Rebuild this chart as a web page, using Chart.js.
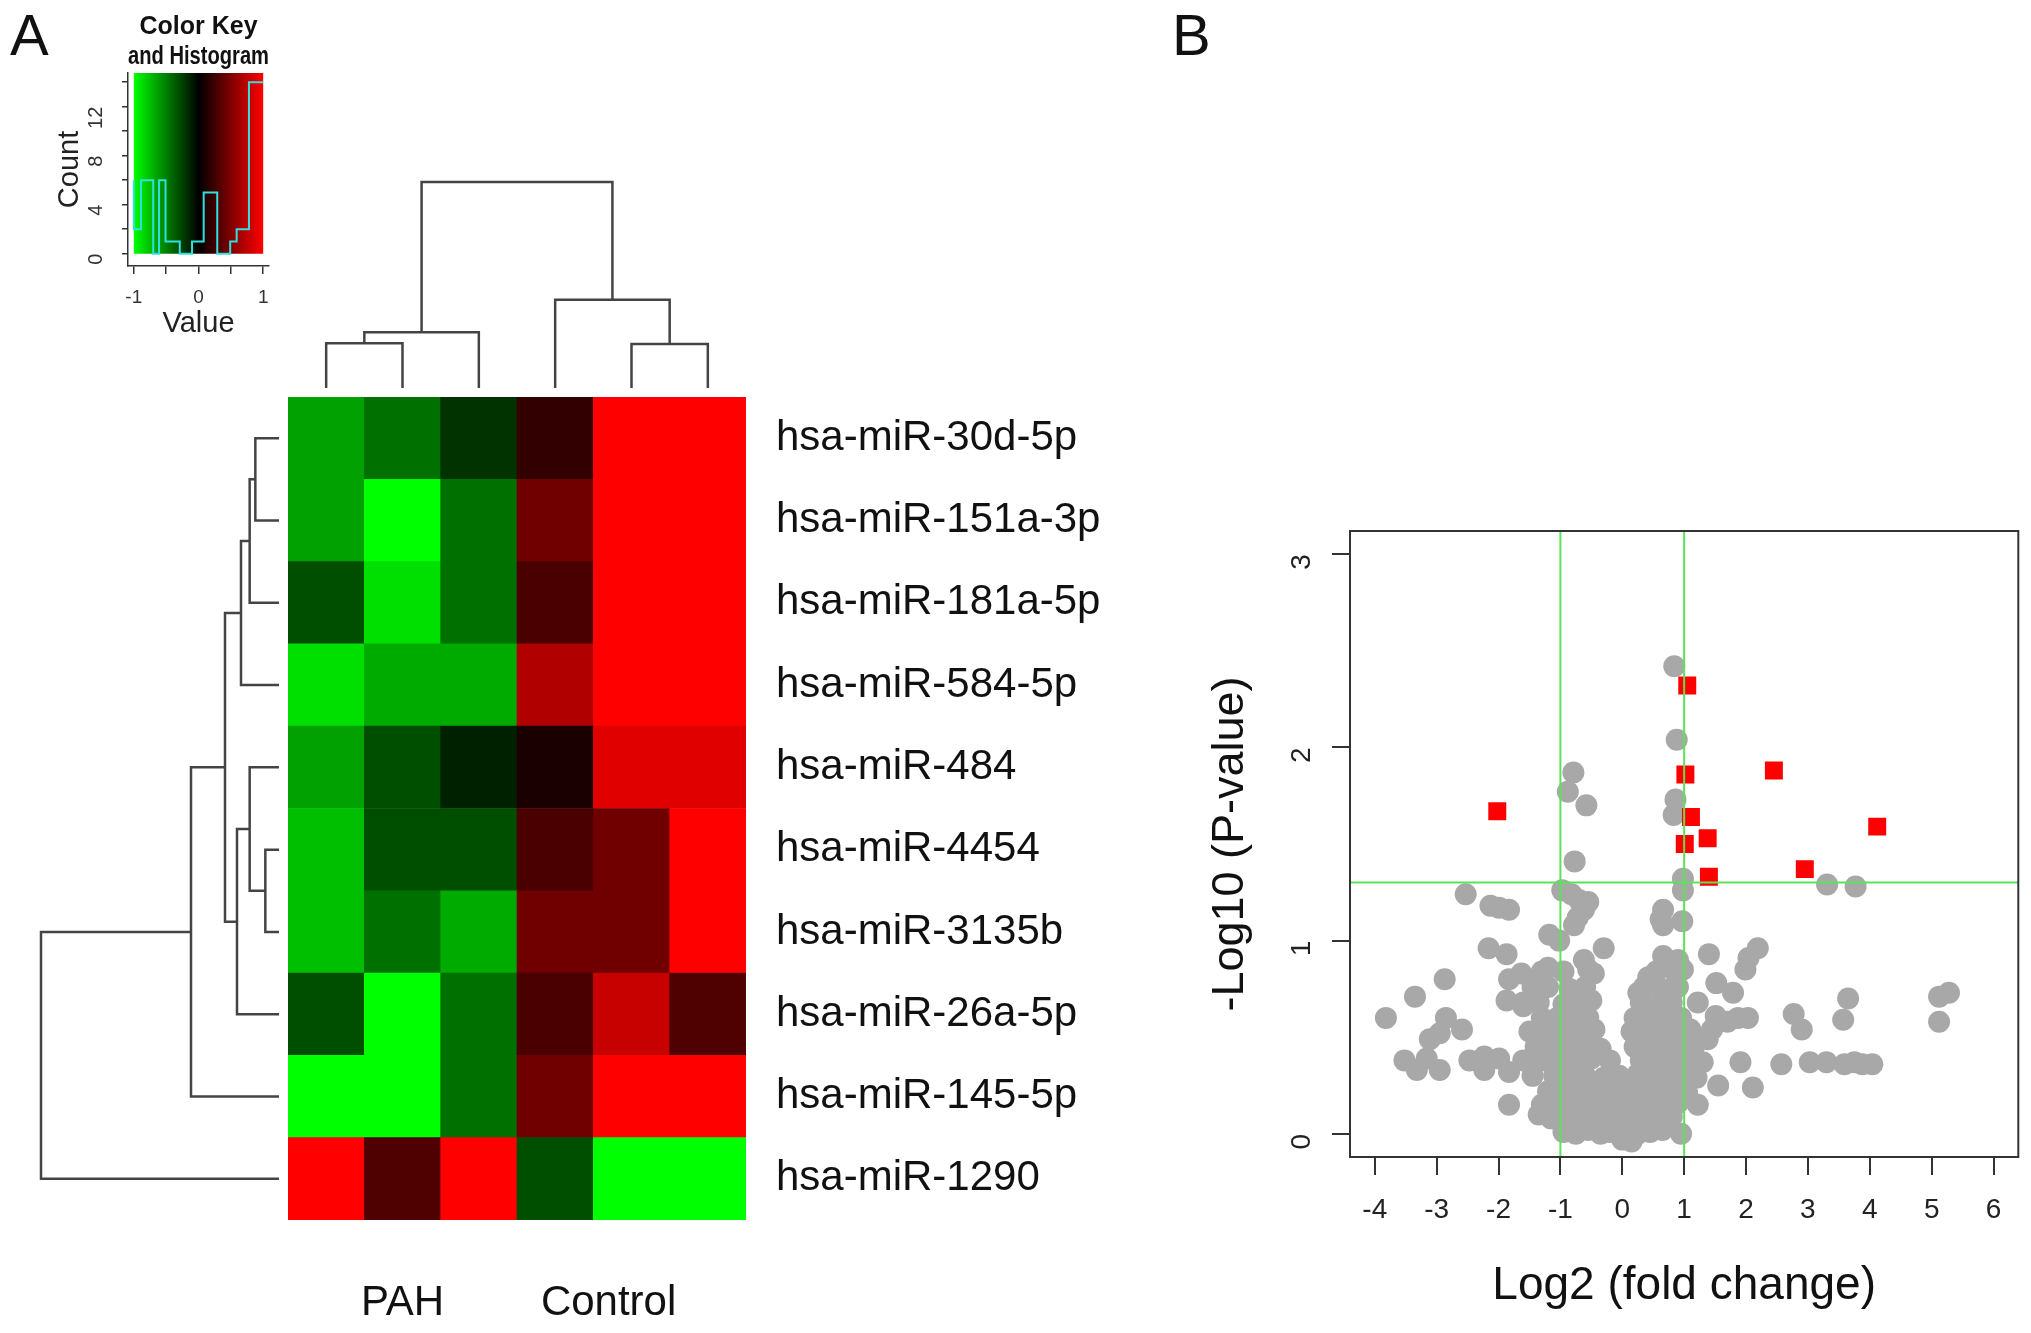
<!DOCTYPE html>
<html>
<head>
<meta charset="utf-8">
<script src="https://cdn.jsdelivr.net/npm/chart.js@4.4.1/dist/chart.umd.min.js"></script>
<style>
  body { margin: 0; width: 2031px; height: 1333px; background: #fff; position: relative; overflow: hidden;
         font-family: "Liberation Sans", Arial, sans-serif; }
  .box { position: absolute; }
  .letter { position: absolute; font-size: 58px; line-height: 1; color: #111; }
</style>
</head>
<body>
<div class="letter" style="left:10px;top:6px">A</div>
<div class="letter" style="left:1172px;top:6px">B</div>

<div class="box" style="left:0;top:0;width:300px;height:345px"><canvas id="key"></canvas></div>
<div class="box" style="left:280px;top:172px;width:474px;height:226px"><canvas id="colDendro"></canvas></div>
<div class="box" style="left:31px;top:387px;width:258px;height:843px"><canvas id="rowDendro"></canvas></div>
<div class="box" style="left:288px;top:390px;width:830px;height:943px"><canvas id="heat"></canvas></div>
<div class="box" style="left:1180px;top:480px;width:851px;height:853px"><canvas id="volcano"></canvas></div>

<script>
// ---- panel A: heatmap data ----
const mirnas = ['hsa-miR-30d-5p', 'hsa-miR-151a-3p', 'hsa-miR-181a-5p', 'hsa-miR-584-5p', 'hsa-miR-484',
                'hsa-miR-4454', 'hsa-miR-3135b', 'hsa-miR-26a-5p', 'hsa-miR-145-5p', 'hsa-miR-1290'];
const samples = ['PAH1', 'PAH2', 'PAH3', 'Ctrl1', 'Ctrl2', 'Ctrl3'];
const groupNames = ['PAH', 'Control'];
const groupCentres = [1.5, 4.2];   // in column units, 0..6
// scaled expression, one row per miRNA (top to bottom), columns as samples
const heatValues = [
  [-0.63, -0.44, -0.20, 0.20, 1.00, 1.00],
  [-0.63, -1.00, -0.44, 0.44, 1.00, 1.00],
  [-0.31, -0.88, -0.44, 0.29, 1.00, 1.00],
  [-0.88, -0.67, -0.67, 0.69, 1.00, 1.00],
  [-0.63, -0.31, -0.13, 0.10, 0.88, 0.88],
  [-0.75, -0.31, -0.31, 0.29, 0.44, 1.00],
  [-0.75, -0.44, -0.67, 0.44, 0.44, 1.00],
  [-0.31, -1.00, -0.44, 0.29, 0.78, 0.31],
  [-1.00, -1.00, -0.44, 0.44, 1.00, 1.00],
  [ 1.00,  0.31,  1.00, -0.31, -1.00, -1.00]
];
// dendrograms, hclust style merges: negative = leaf (display order), positive = earlier merge
const colMerges = [[-1, -2, 1.34], [1, -3, 1.67], [-5, -6, 1.32], [-4, 3, 2.65], [2, 4, 6.18]];
const rowMerges = [[-1, -2, 0.71], [-6, -7, 0.41], [1, -3, 0.88], [-5, 2, 0.88], [3, -4, 1.14],
                   [4, -8, 1.26], [5, 6, 1.62], [7, -9, 2.64], [8, -10, 7.14]];
// colour key histogram
const histEdges = [-1, -0.89, -0.7, -0.61, -0.51, -0.29, -0.1, 0.08, 0.29, 0.49, 0.59, 0.78, 0.9, 1];
const histCounts = [6, 2, 6, 0, 6, 1, 0, 1, 5, 0, 1, 2, 14];
const keyXTicks = [-1, -0.5, 0, 0.5, 1];
const keyYTicks = [0, 2, 4, 6, 8, 10, 12, 14];

// ---- panel B: volcano data ----
const sigFC = [1.05, 1.02, 2.45, -2.02, 1.11, 1.38, 1.01, 4.12, 2.95, 1.40];
const sigP  = [2.32, 1.86, 1.88, 1.67, 1.64, 1.53, 1.50, 1.59, 1.37, 1.33];
const otherFC = [
  0.84, 0.88, -0.79, -0.88, -0.58, 0.86, 0.83, -0.77, -2.53, 0.98, 0.98, 3.31, 3.77,
  -0.97, -0.82, -0.70, -0.55, -0.62, -0.72, -0.78, -2.13, -1.99, -1.83, 0.66, 0.62, 0.66, 0.97,
  -1.18, -1.02, -0.30, -2.16, -1.87, 2.19, 2.04, 1.99, 1.40, -2.87, -3.35, -3.82,
  -1.20, -1.63, -1.83, -0.62, -0.46, 0.66, 0.90, 0.98, 0.42, 0.26, 1.52, 1.79, 1.22,
  2.77, 2.90, 3.65, 3.57, 5.12, 5.28, 5.12, -1.87, -1.60, -2.85, -2.59, -3.11, -2.95,
  -3.52, -3.32, -3.16, -2.95, -2.47, -2.23, -2.23, -1.99, -1.83, -1.83, -1.35,
  1.91, 2.11, 1.55, 1.22, 2.57, 3.03, 3.30, 3.59, 3.75, 3.88, 4.04, 1.87, 2.03, 1.70, 1.51, 1.38, 1.45,
  -0.95, -0.75, -0.55, -0.35, -0.20, -0.05, 0.10, 0.25, 0.45, 0.65, 0.95, 0.00, 0.15,
  -1.15, -0.85, -0.60, -0.40, -0.15, 0.05, 0.30, 0.55, 0.80,
  -1.30, -1.05, -0.80, -0.50, -0.25, 0.00, 0.20, 0.40, 0.70, 0.90,
  -1.20, -0.95, -0.70, -0.45, -0.20, 0.10, 0.35, 0.60, 0.85, 1.05,
  -1.45, -1.10, -0.85, -0.60, -0.30, -0.05, 0.25, 0.50, 0.75, 0.95, 1.20,
  -1.60, -1.30, -1.00, -0.75, -0.50, -0.20, 0.30, 0.55, 0.80, 1.05, 1.30,
  -1.40, -1.15, -0.90, -0.60, -0.35, 0.20, 0.45, 0.70, 0.90, 1.15,
  -1.50, -1.25, -0.95, -0.70, -0.45, 0.15, 0.40, 0.65, 0.85, 1.10,
  -1.30, -1.05, -0.80, -0.55, 0.20, 0.45, 0.70, 0.95,
  -1.60, -1.35, -0.95, -0.70, -0.50, 0.30, 0.55, 0.80,
  -1.45, -1.20, -0.85, -0.60, 0.35, 0.65, 0.90,
  -1.30, -0.95, -0.55, 0.55, 0.85
];
const otherP = [
  2.42, 2.04, 1.87, 1.77, 1.70, 1.73, 1.65, 1.41, 1.24, 1.32, 1.26, 1.29, 1.28,
  1.26, 1.24, 1.21, 1.20, 1.16, 1.12, 1.08, 1.18, 1.17, 1.16, 1.16, 1.11, 1.08, 1.10,
  1.03, 1.00, 0.96, 0.96, 0.93, 0.96, 0.91, 0.85, 0.93, 0.80, 0.71, 0.60,
  0.86, 0.83, 0.80, 0.90, 0.83, 0.92, 0.90, 0.85, 0.81, 0.73, 0.78, 0.73, 0.68,
  0.62, 0.54, 0.70, 0.59, 0.71, 0.73, 0.58, 0.69, 0.66, 0.60, 0.54, 0.49, 0.52,
  0.38, 0.33, 0.39, 0.33, 0.38, 0.40, 0.33, 0.39, 0.32, 0.15, 0.10,
  0.37, 0.24, 0.25, 0.15, 0.36, 0.37, 0.37, 0.36, 0.37, 0.36, 0.36, 0.60, 0.60, 0.58, 0.61, 0.49, 0.54,
  0.01, 0.00, 0.02, 0.00, 0.01, 0.00, -0.02, 0.00, 0.01, 0.02, 0.00, -0.03, -0.04,
  0.08, 0.08, 0.07, 0.08, 0.09, 0.07, 0.08, 0.08, 0.09,
  0.15, 0.15, 0.16, 0.15, 0.15, 0.14, 0.16, 0.15, 0.15, 0.16,
  0.22, 0.22, 0.23, 0.22, 0.21, 0.22, 0.23, 0.22, 0.22, 0.21,
  0.30, 0.30, 0.31, 0.30, 0.29, 0.30, 0.31, 0.30, 0.30, 0.31, 0.29,
  0.38, 0.38, 0.37, 0.38, 0.39, 0.38, 0.38, 0.37, 0.38, 0.38, 0.37,
  0.45, 0.45, 0.46, 0.45, 0.44, 0.45, 0.46, 0.45, 0.45, 0.44,
  0.53, 0.53, 0.52, 0.53, 0.54, 0.53, 0.52, 0.53, 0.53, 0.54,
  0.60, 0.60, 0.61, 0.60, 0.60, 0.61, 0.60, 0.60,
  0.68, 0.68, 0.67, 0.68, 0.69, 0.68, 0.67, 0.68,
  0.76, 0.76, 0.75, 0.76, 0.76, 0.75, 0.76,
  0.84, 0.84, 0.85, 0.84, 0.84
];
const fcCutoffs = [-1, 1];
const pCutoff = 1.301;       // -log10(0.05)
const volcXTicks = [-4, -3, -2, -1, 0, 1, 2, 3, 4, 5, 6];
const volcYTicks = [0, 1, 2, 3];
const volcX = [-4.4, 6.4];
const volcY = [-0.12, 3.12];

Chart.defaults.font.family = '"Liberation Sans", Arial, sans-serif';
Chart.defaults.color = '#222';
Chart.defaults.animation = false;
Chart.defaults.maintainAspectRatio = false;
Chart.defaults.plugins.legend.display = false;
Chart.defaults.plugins.tooltip.enabled = false;

function keyColour(v) {
  const c = Math.round(255 * Math.min(1, Math.abs(v)));
  return v < 0 ? `rgb(0,${c},0)` : `rgb(${c},0,0)`;
}

function dendroLinks(merges, sideways) {
  const nodes = [];
  const at = i => i < 0 ? { p: -i, h: 0 } : nodes[i - 1];
  return merges.map(([a, b, h]) => {
    const A = at(a), B = at(b);
    nodes.push({ p: (A.p + B.p) / 2, h: h });
    return [[A.p, A.h], [A.p, h], [B.p, h], [B.p, B.h]]
      .map(([p, hh]) => sideways ? { x: hh, y: p } : { x: p, y: hh });
  });
}

const fixedTicks = list => axis => { axis.ticks = list.map(v => ({ value: v })); };
// fixed axis size, and no extra room reserved for the end labels
const fixSize = (key, size) => axis => {
  axis[key] = size;
  axis.paddingTop = axis.paddingBottom = axis.paddingLeft = axis.paddingRight = 0;
};
const hidden = { display: false };

// colour key
const keyGradient = {
  id: 'keyGradient',
  beforeDatasetsDraw(chart) {
    const { ctx, scales: { x, y } } = chart;
    const x0 = x.getPixelForValue(-1), x1 = x.getPixelForValue(1);
    const top = y.getPixelForValue(y.max), bottom = y.getPixelForValue(0);
    const g = ctx.createLinearGradient(x0, 0, x1, 0);
    g.addColorStop(0, keyColour(-1));
    g.addColorStop(0.5, keyColour(0));
    g.addColorStop(1, keyColour(1));
    ctx.save();
    ctx.fillStyle = g;
    ctx.fillRect(x0, top, x1 - x0, bottom - top);
    ctx.restore();
  }
};

const histPts = histCounts.map((c, i) => ({ x: histEdges[i], y: c }));
histPts.push({ x: histEdges[histEdges.length - 1], y: histCounts[histCounts.length - 1] });

new Chart(document.getElementById('key'), {
  type: 'line',
  data: { datasets: [{ data: histPts, borderColor: '#30e0e0', borderWidth: 2, stepped: 'after', pointRadius: 0, fill: false }] },
  options: {
    layout: { padding: { left: 53, right: 31, top: 0, bottom: 0 } },
    plugins: {
      title: { display: true, fullSize: false, text: ['Color Key', 'and Histogram'], color: '#111',
               font: { size: 25, weight: 'bold', lineHeight: 1.2 }, padding: { top: 12, bottom: 1 } }
    },
    scales: {
      x: {
        type: 'linear', min: -1.09, max: 1.09,
        afterBuildTicks: fixedTicks(keyXTicks),
        afterFit: fixSize('height', 79),
        grid: { drawOnChartArea: false, tickLength: 8, color: '#333', lineWidth: 1.5 },
        border: { color: '#333', width: 1.5 },
        ticks: { font: { size: 19 }, padding: 12, maxRotation: 0, color: '#333',
                 callback: v => Number.isInteger(v) ? String(v) : '' },
        title: { display: true, text: 'Value', font: { size: 29 }, color: '#222', padding: { top: 0, bottom: 4 } }
      },
      y: {
        min: -1, max: 14.75,
        afterBuildTicks: fixedTicks(keyYTicks),
        afterFit: fixSize('width', 75),
        grid: { drawOnChartArea: false, tickLength: 6, color: '#333', lineWidth: 1.5 },
        border: { color: '#333', width: 1.5 },
        ticks: { font: { size: 20 }, padding: 26, minRotation: 90, maxRotation: 90, color: '#333',
                 callback: v => v % 4 === 0 ? String(v) : '' },
        title: { display: true, text: 'Count', font: { size: 29 }, color: '#222', padding: { top: 0, bottom: 0 } }
      }
    }
  },
  plugins: [keyGradient]
});

// dendrograms
const dendroStyle = { borderColor: '#444', borderWidth: 2.5, showLine: true, pointRadius: 0, clip: false };

new Chart(document.getElementById('colDendro'), {
  type: 'scatter',
  data: { datasets: dendroLinks(colMerges, false).map(pts => ({ ...dendroStyle, data: pts })) },
  options: {
    layout: { padding: { left: 8, right: 8, top: 10, bottom: 10 } },
    scales: {
      x: { type: 'linear', min: 0.5, max: samples.length + 0.5, display: false },
      y: { type: 'linear', min: 0, max: 6.18, display: false }
    }
  }
});

new Chart(document.getElementById('rowDendro'), {
  type: 'scatter',
  data: { datasets: dendroLinks(rowMerges, true).map(pts => ({ ...dendroStyle, data: pts })) },
  options: {
    layout: { padding: { left: 10, right: 10, top: 10, bottom: 10 } },
    scales: {
      x: { type: 'linear', min: 0, max: 7.14, reverse: true, display: false },
      y: { type: 'linear', min: 0.5, max: mirnas.length + 0.5, reverse: true, display: false }
    }
  }
});

// heatmap: one stacked bar segment per cell, bottom row first
const heatSets = heatValues.slice().reverse().map(row => ({
  data: row.map(() => 1),
  backgroundColor: row.map(keyColour),
  borderWidth: 0,
  barPercentage: 1,
  categoryPercentage: 1
}));

new Chart(document.getElementById('heat'), {
  type: 'bar',
  data: { labels: samples, datasets: heatSets },
  options: {
    layout: { padding: { top: 7, left: 0, right: 0, bottom: 0 } },
    scales: {
      x: { stacked: true, display: false },
      groups: {
        type: 'linear', axis: 'x', position: 'bottom', min: 0, max: samples.length, offset: false,
        afterBuildTicks: fixedTicks(groupCentres),
        afterFit: fixSize('height', 113),
        grid: { display: false, drawTicks: false, offset: false },
        border: hidden,
        ticks: { font: { size: 42 }, color: '#111', padding: 58, maxRotation: 0, autoSkip: false,
                 callback: (v, i) => groupNames[i] }
      },
      y: {
        stacked: true, position: 'right', min: 0, max: mirnas.length,
        afterBuildTicks: fixedTicks(mirnas.map((_, i) => i + 0.5)),
        afterFit: fixSize('width', 372),
        grid: { display: false, drawTicks: false },
        border: hidden,
        ticks: { font: { size: 42 }, color: '#111', padding: 30, autoSkip: false,
                 callback: v => mirnas[mirnas.length - 1 - Math.floor(v)] }
      }
    }
  }
});

// volcano
const frame = {
  id: 'frame',
  afterDraw(chart) {
    const { ctx, chartArea: a } = chart;
    ctx.save();
    ctx.strokeStyle = '#333';
    ctx.lineWidth = 2;
    ctx.strokeRect(a.left, a.top, a.right - a.left, a.bottom - a.top);
    ctx.restore();
  }
};
const cutLine = { showLine: true, pointRadius: 0, borderColor: '#5ae35a', borderWidth: 2 };

new Chart(document.getElementById('volcano'), {
  type: 'scatter',
  data: {
    datasets: [
      ...fcCutoffs.map(c => ({ ...cutLine, data: [{ x: c, y: volcY[0] }, { x: c, y: volcY[1] }] })),
      { ...cutLine, data: [{ x: volcX[0], y: pCutoff }, { x: volcX[1], y: pCutoff }] },
      { data: sigFC.map((x, i) => ({ x: x, y: sigP[i] })), pointStyle: 'rect', pointRadius: 12.7,
        backgroundColor: '#ff0000', borderWidth: 0 },
      { data: otherFC.map((x, i) => ({ x: x, y: otherP[i] })), pointRadius: 11,
        backgroundColor: '#a8a8a8', borderWidth: 0 }
    ]
  },
  options: {
    layout: { padding: { top: 51, right: 12, left: 0, bottom: 0 } },
    scales: {
      x: {
        min: volcX[0], max: volcX[1],
        afterBuildTicks: fixedTicks(volcXTicks),
        afterFit: fixSize('height', 176),
        grid: { drawOnChartArea: false, tickLength: 18, color: '#333', lineWidth: 2 },
        border: hidden,
        ticks: { font: { size: 28 }, color: '#222', padding: 18, maxRotation: 0 },
        title: { display: true, text: 'Log2 (fold change)', font: { size: 46 }, color: '#111', padding: { top: 0, bottom: 19 } }
      },
      y: {
        min: volcY[0], max: volcY[1],
        afterBuildTicks: fixedTicks(volcYTicks),
        afterFit: fixSize('width', 170),
        grid: { drawOnChartArea: false, tickLength: 18, color: '#333', lineWidth: 2 },
        border: hidden,
        ticks: { font: { size: 28 }, color: '#222', padding: 30, minRotation: 90, maxRotation: 90 },
        title: { display: true, text: '-Log10 (P-value)', font: { size: 45 }, color: '#111', padding: { top: 24, bottom: 0 } }
      }
    }
  },
  plugins: [frame]
});
</script>
</body>
</html>
